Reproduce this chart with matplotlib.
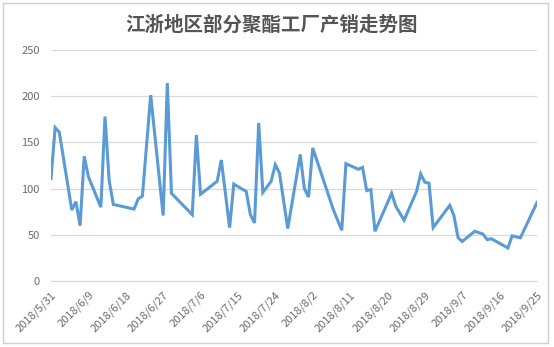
import numpy as np
import pandas as pd
import matplotlib
matplotlib.use("Agg")
import matplotlib.pyplot as plt
from matplotlib.patches import Rectangle

plt.rcParams['font.family'] = ['Noto Sans CJK SC', 'DejaVu Sans']

# ---------------- data ----------------
title = "江浙地区部分聚酯工厂产销走势图"
start_date = "2018-05-31"
day_offsets = [0, 1, 2, 5, 6, 7, 8, 9, 12, 13, 14, 15, 20, 21, 22, 24, 27, 28, 29,
               34, 35, 36, 40, 41, 43, 44, 47, 48, 49, 50, 51, 53, 54, 55, 57, 60,
               61, 62, 63, 68, 70, 71, 74, 75, 76, 77, 78, 82, 83, 85, 88, 89, 90,
               91, 92, 96, 97, 98, 99, 102, 104, 105, 106, 110, 111, 113, 117]
values = [111, 166, 161, 77, 86, 60, 135, 113, 80, 178, 109, 83, 78, 89, 92, 201,
          71, 214, 95, 72, 158, 94, 108, 131, 58, 105, 97, 72, 63, 171, 96, 108,
          126, 117, 57, 137, 100, 91, 144, 77, 55, 127, 121, 123, 98, 99, 54, 95,
          81, 66, 97, 116, 107, 106, 58, 82, 71, 47, 43, 54, 51, 45, 46, 36, 49,
          47, 85]
tick_step_days = 9
y_ticks = [0, 50, 100, 150, 200, 250]

dates = pd.Timestamp(start_date) + pd.to_timedelta(day_offsets, unit="D")
tick_dates = pd.date_range(start_date, "2018-09-25", freq=f"{tick_step_days}D")
tick_labels = [f"{d.year}/{d.month}/{d.day}" for d in tick_dates]

# ---------------- figure ----------------
fig = plt.figure(figsize=(5.54, 3.47), dpi=100)
ax = fig.add_axes([51 / 554, 1 - 281.3 / 347, (537 - 51) / 554, (281.3 - 49.8) / 347])

ax.plot(dates, values, color="#5B9BD5", lw=2.2, solid_joinstyle="miter")

ax.set_ylim(0, 250)
ax.set_yticks(y_ticks)
ax.set_xlim(dates[0], dates[-1])
ax.set_xticks(tick_dates)
ax.set_xticklabels(tick_labels, rotation=45, ha="right", rotation_mode="anchor")

ax.grid(axis="y", color="#D9D9D9", lw=0.9)
ax.set_axisbelow(True)
for s in ["top", "right", "left"]:
    ax.spines[s].set_visible(False)
ax.spines["bottom"].set_color("#D9D9D9")
ax.tick_params(axis="both", length=0, colors="#6B6B6B", labelsize=8)
ax.tick_params(axis="x", pad=6)
ax.tick_params(axis="y", pad=8)

fig.text(0.49, 1 - 25 / 347, title, ha="center", va="center",
         fontsize=14, fontweight="bold", color="#555555")

# light frame around the chart
fig.patches.append(Rectangle((3 / 554, 4 / 347), 545 / 554, 340 / 347,
                             transform=fig.transFigure, fill=False,
                             edgecolor="#D0D0D0", lw=1.0))

fig.savefig("out.png", dpi=100, facecolor="white")
